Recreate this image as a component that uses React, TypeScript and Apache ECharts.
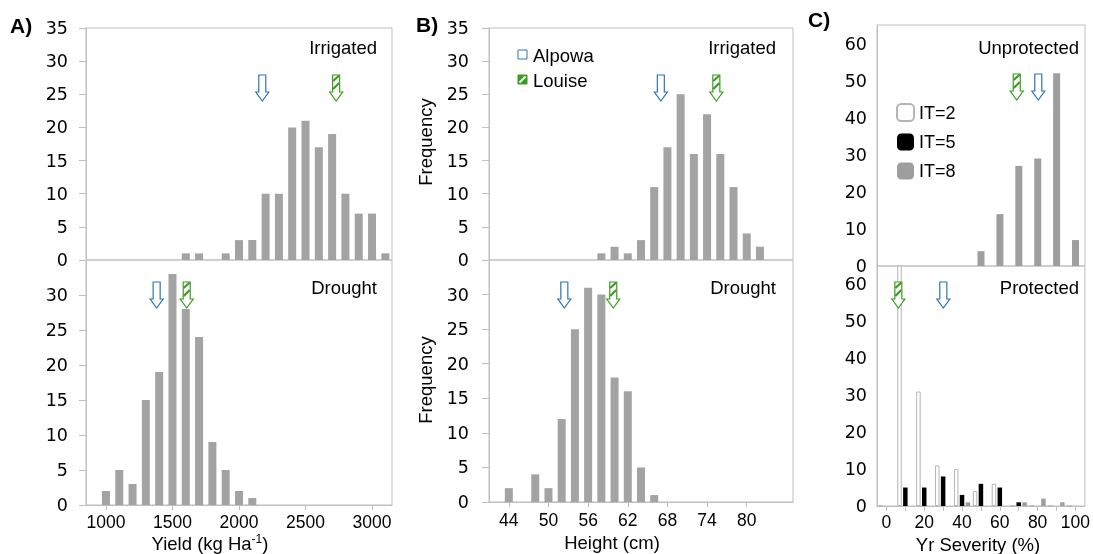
import React, { useEffect, useRef } from 'react';
import * as echarts from 'echarts';

// ---------- DATA ----------
const yieldBins = ['900','1000','1100','1200','1300','1400','1500','1600','1700','1800','1900','2000','2100','2200','2300','2400','2500','2600','2700','2800','2900','3000','3100'];
const yieldIrrigated = [0,0,0,0,0,0,0,1,1,0,1,3,3,10,10,20,21,17,19,10,7,7,1];
const yieldDrought = [0,2,5,3,15,19,33,28,24,9,5,2,1,0,0,0,0,0,0,0,0,0,0];
const yieldTickLabels = ['1000','1500','2000','2500','3000'];

const heightBins = ['42','44','46','48','50','52','54','56','58','60','62','64','66','68','70','72','74','76','78','80','82','84','86'];
const heightIrrigated = [0,0,0,0,0,0,0,0,1,2,1,3,11,17,25,16,22,16,11,4,2,0,0];
const heightDrought = [0,2,0,4,2,12,25,31,30,18,16,5,1,0,0,0,0,0,0,0,0,0,0];
const heightTickLabels = ['44','50','56','62','68','74','80'];

const severityBins = ['0','10','20','30','40','50','60','70','80','90','100'];
const unprotectedIT8 = [0,0,0,0,0,4,14,27,29,52,7];
const protectedIT2 = [0,68,31,11,10,4,6,0,0,0,0];
const protectedIT5 = [0,5,5,8,3,6,5,1,0,0,0];
const protectedIT8 = [0,0,0,0,1,0,0,1,2,1,0];
const severityTickLabels = ['0','20','40','60','80','100'];

// parental means: [Alpowa, Louise]
const parents = ['Alpowa', 'Louise'];
const yieldIrrigatedMeans = [2175, 2730];
const yieldDroughtMeans = [1381, 1607];
const heightIrrigatedMeans = [67.0, 75.4];
const heightDroughtMeans = [52.4, 59.8];
const severityUnprotectedMeans = [80.3, 68.9];
const severityProtectedMeans = [30.1, 6.3];

// ---------- STYLE ----------
const FONT = "'Liberation Sans', Arial, Helvetica, sans-serif";
const YFONT = "'DejaVu Sans', 'Liberation Sans', Arial, sans-serif";
const AXIS_GRAY = '#bfbfbf';
const BAR_GRAY = '#a3a3a3';
const BLUE = '#2f74b5';
const GREEN = '#3d9b23';

const gridBoxes = [
  { left: 86, top: 28, width: 306, height: 232 },
  { left: 86, top: 260, width: 306, height: 245 },
  { left: 489, top: 28, width: 304, height: 232 },
  { left: 489, top: 260, width: 304, height: 242 },
  { left: 877, top: 25, width: 208, height: 241 },
  { left: 877, top: 266, width: 208, height: 240 },
];

function catX(gridIndex: number, data: string[], labels: string[] | null, show: boolean, margin: number, tickAll: boolean) {
  const fn = (_i: number, v: string) => (labels ? labels.includes(v) : true);
  return {
    type: 'category',
    gridIndex,
    data,
    show,
    boundaryGap: true,
    axisLine: { show: true, onZero: false, lineStyle: { color: AXIS_GRAY, width: 1 } },
    axisTick: { show: true, alignWithLabel: true, interval: tickAll ? 0 : fn, length: 5, lineStyle: { color: AXIS_GRAY } },
    axisLabel: { interval: fn, fontSize: 17.5, color: '#000', margin, fontFamily: FONT },
  };
}

function valY(gridIndex: number, max: number, interval: number, margin: number, ticks: boolean, showMax: boolean, size: number) {
  return {
    type: 'value',
    gridIndex,
    min: 0,
    max,
    interval,
    splitLine: { show: false },
    axisLine: { show: true, onZero: false, lineStyle: { color: AXIS_GRAY, width: 1 } },
    axisTick: { show: ticks, inside: false, length: 7, lineStyle: { color: AXIS_GRAY } },
    axisLabel: { fontSize: size, color: '#000', margin, showMaxLabel: showMax, fontFamily: YFONT },
  };
}

function hiddenX(gridIndex: number, min: number, max: number) {
  return { type: 'value', gridIndex, min, max, show: false, axisLine: { onZero: false } };
}

function arrowSeries(gridIndex: number, means: number[], tipOffset: number) {
  return {
    type: 'custom',
    name: 'parents-' + gridIndex,
    xAxisIndex: 6 + gridIndex,
    yAxisIndex: gridIndex,
    silent: true,
    z: 10,
    clip: false,
    data: means.map((m, i) => [m, 0, i]),
    renderItem: (params: any, api: any) => {
      const x = api.value(0);
      const idx = api.value(2);
      const p = api.coord([x, 0]);
      const cx = p[0];
      const ty = params.coordSys.y + tipOffset;
      const H = 26, hH = 9, hw = 6.5, sw = 3.5;
      const color = idx === 0 ? BLUE : GREEN;
      const points = [
        [cx - sw, ty - H], [cx + sw, ty - H], [cx + sw, ty - hH], [cx + hw, ty - hH],
        [cx, ty], [cx - hw, ty - hH], [cx - sw, ty - hH],
      ];
      const children: any[] = [
        { type: 'polygon', shape: { points }, style: { fill: '#fff', stroke: color, lineWidth: 1.2 } },
      ];
      if (idx === 1) {
        children.push(
          { type: 'line', shape: { x1: cx - sw + 0.5, y1: ty - 12, x2: cx + sw - 0.5, y2: ty - 18 }, style: { stroke: GREEN, lineWidth: 2.2 } },
          { type: 'line', shape: { x1: cx - sw + 0.5, y1: ty - 20, x2: cx + sw - 0.5, y2: ty - 25.5 }, style: { stroke: GREEN, lineWidth: 2.2 } },
        );
      }
      return { type: 'group', children };
    },
  };
}

function bar(gridIndex: number, data: number[], width: number, name?: string, style?: any) {
  return {
    type: 'bar',
    name,
    xAxisIndex: gridIndex,
    yAxisIndex: gridIndex,
    data,
    barWidth: width,
    silent: true,
    itemStyle: style || { color: BAR_GRAY, borderWidth: 0 },
  };
}

function txt(x: number, y: number, text: string, align: string, size = 18.5, extra: any = {}) {
  return {
    type: 'text',
    x,
    y,
    silent: true,
    ...extra,
    style: {
      text,
      fontSize: size,
      fontFamily: FONT,
      fill: '#000',
      align,
      textAlign: align,
      verticalAlign: 'middle',
      textVerticalAlign: 'middle',
      ...(extra.style || {}),
    },
  };
}

const it2Style = { color: '#ffffff', borderColor: '#b5b5b5', borderWidth: 1 };
const it5Style = { color: '#000000', borderWidth: 0 };
const it8Style = { color: '#9e9e9e', borderWidth: 0 };

const option: any = {
  animation: false,
  textStyle: { fontFamily: FONT },
  grid: gridBoxes.map((g) => ({ ...g, show: true, borderColor: AXIS_GRAY, borderWidth: 1, containLabel: false })),
  xAxis: [
    catX(0, yieldBins, yieldTickLabels, false, 8, false),
    catX(1, yieldBins, yieldTickLabels, true, 8, false),
    catX(2, heightBins, heightTickLabels, false, 9, false),
    catX(3, heightBins, heightTickLabels, true, 9, false),
    catX(4, severityBins, severityTickLabels, false, 7, true),
    catX(5, severityBins, severityTickLabels, true, 7, true),
    hiddenX(0, 850, 3150),
    hiddenX(1, 850, 3150),
    hiddenX(2, 41, 87),
    hiddenX(3, 41, 87),
    hiddenX(4, -5, 105),
    hiddenX(5, -5, 105),
  ],
  yAxis: [
    valY(0, 35, 5, 18, true, true, 17.5),
    valY(1, 35, 5, 18, true, false, 17.5),
    valY(2, 35, 5, 20, true, true, 17.5),
    valY(3, 35, 5, 20, true, false, 17.5),
    valY(4, 65, 10, 10, false, false, 17.5),
    valY(5, 65, 10, 10, false, false, 17.5),
  ],
  legend: {
    data: ['IT=2', 'IT=5', 'IT=8'],
    orient: 'vertical',
    left: 891,
    top: 98,
    itemWidth: 17,
    itemHeight: 17,
    itemGap: 11,
    icon: 'roundRect',
    selectedMode: false,
    textStyle: { fontSize: 18, color: '#000', fontFamily: FONT },
  },
  series: [
    bar(0, yieldIrrigated, 8),
    bar(1, yieldDrought, 8),
    bar(2, heightIrrigated, 8),
    bar(3, heightDrought, 8),
    bar(4, unprotectedIT8, 7, 'IT=8', it8Style),
    { ...bar(5, protectedIT2, 4.5, 'IT=2', it2Style), barGap: '30%' },
    { ...bar(5, protectedIT5, 4.5, 'IT=5', it5Style), barGap: '30%' },
    { ...bar(5, protectedIT8, 4.5, 'IT=8', it8Style), barGap: '30%' },
    arrowSeries(0, yieldIrrigatedMeans, 73),
    arrowSeries(1, yieldDroughtMeans, 48),
    arrowSeries(2, heightIrrigatedMeans, 73),
    arrowSeries(3, heightDroughtMeans, 48),
    arrowSeries(4, severityUnprotectedMeans, 75),
    arrowSeries(5, severityProtectedMeans, 42),
  ],
  graphic: [
    // panel letters
    txt(10, 25, 'A)', 'left', 21, { style: { fontWeight: 'bold' } }),
    txt(416, 24, 'B)', 'left', 21, { style: { fontWeight: 'bold' } }),
    txt(808, 19, 'C)', 'left', 21, { style: { fontWeight: 'bold' } }),
    // panel titles
    txt(377, 47, 'Irrigated', 'right'),
    txt(377, 287, 'Drought', 'right'),
    txt(776, 47, 'Irrigated', 'right'),
    txt(776, 287, 'Drought', 'right'),
    txt(1079, 47, 'Unprotected', 'right'),
    txt(1079, 287, 'Protected', 'right'),
    // Frequency labels
    txt(425, 142, 'Frequency', 'center', 18.5, { rotation: Math.PI / 2 }),
    txt(425, 380, 'Frequency', 'center', 18.5, { rotation: Math.PI / 2 }),
    // x axis names
    {
      type: 'text',
      x: 210,
      y: 543,
      silent: true,
      style: {
        text: '{n|Yield (kg Ha}{s|-1}{n|)}',
        align: 'center',
        textAlign: 'center',
        verticalAlign: 'middle',
        textVerticalAlign: 'middle',
        fill: '#000',
        rich: {
          n: { fontSize: 18.5, fontFamily: FONT, fill: '#000', lineHeight: 21 },
          s: { fontSize: 12, fontFamily: FONT, fill: '#000', lineHeight: 13, verticalAlign: 'top' },
        },
      },
    },
    txt(612, 542, 'Height (cm)', 'center'),
    txt(978, 544, 'Yr Severity (%)', 'center'),
    // Alpowa / Louise legend
    { type: 'rect', silent: true, shape: { x: 518, y: 50, width: 9, height: 9 }, style: { fill: '#fff', stroke: BLUE, lineWidth: 1 } },
    { type: 'rect', silent: true, shape: { x: 518, y: 75, width: 9, height: 9 }, style: { fill: GREEN, stroke: GREEN, lineWidth: 1 } },
    { type: 'line', silent: true, shape: { x1: 519.5, y1: 82.5, x2: 525.5, y2: 76.5 }, style: { stroke: '#fff', lineWidth: 2 } },
    txt(533, 55, parents[0], 'left'),
    txt(533, 80, parents[1], 'left'),
  ],
};

export default function App() {
  const ref = useRef<HTMLDivElement>(null);
  useEffect(() => {
    const chart = echarts.init(ref.current as HTMLDivElement, null, { renderer: 'svg' });
    chart.setOption(option);
    return () => chart.dispose();
  }, []);
  return <div ref={ref} style={{ position: 'fixed', left: 0, top: 0, width: 1093, height: 554 }} />;
}
